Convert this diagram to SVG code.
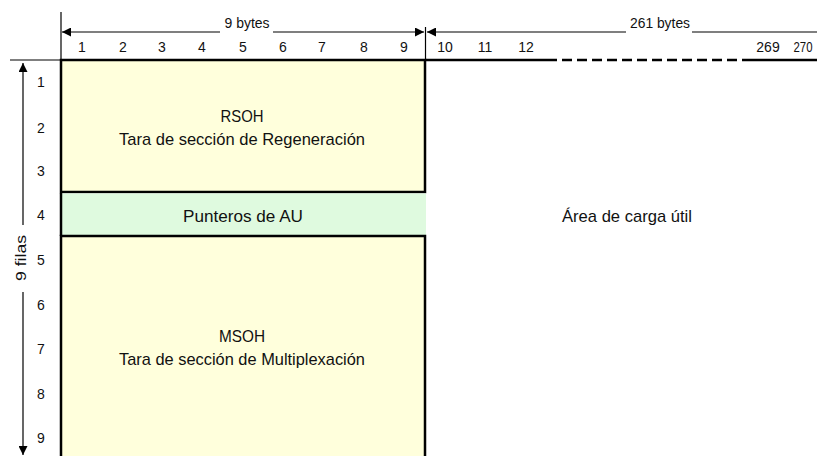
<svg xmlns="http://www.w3.org/2000/svg" width="817" height="456" viewBox="0 0 817 456">
<style>
text{font-family:"Liberation Sans",Arial,sans-serif;fill:#111}
.n{font-size:14px;text-anchor:middle}
.l{font-size:17px;text-anchor:middle}
.ln{stroke:#000;stroke-width:1.2;fill:none}
.bx{stroke:#000;stroke-width:2.5}
</style>
<defs>
<marker id="ah" viewBox="0 0 10 10" refX="10" refY="5" markerWidth="9" markerHeight="9" markerUnits="userSpaceOnUse" orient="auto-start-reverse">
<path d="M0,0 L10,5 L0,10 z" fill="#000"/>
</marker>
</defs>
<rect width="817" height="456" fill="#fff"/>
<g id="rsoh">
<rect class="bx" x="61" y="60" width="364" height="132" fill="#FFFFDC"/>
<text class="l" x="242" y="122" textLength="43" lengthAdjust="spacingAndGlyphs">RSOH</text>
<text class="l" x="242" y="145" textLength="246" lengthAdjust="spacingAndGlyphs">Tara de sección de Regeneración</text>
</g>
<g id="punteros">
<rect x="61" y="193.5" width="365" height="41.5" fill="#DFFADF"/>
<line x1="61" y1="193" x2="61" y2="236" stroke="#000" stroke-width="2.5"/>
<text class="l" x="243" y="222" textLength="120" lengthAdjust="spacingAndGlyphs">Punteros de AU</text>
</g>
<g id="msoh">
<rect class="bx" x="61" y="236" width="364" height="224" fill="#FFFFDC"/>
<text class="l" x="242" y="342" textLength="46" lengthAdjust="spacingAndGlyphs">MSOH</text>
<text class="l" x="242" y="365" textLength="246" lengthAdjust="spacingAndGlyphs">Tara de sección de Multiplexación</text>
</g>
<g id="carga">
<text class="l" x="627" y="222" textLength="130" lengthAdjust="spacingAndGlyphs">Área de carga útil</text>
</g>
<g id="connectors">
<line class="ln" x1="10" y1="60" x2="61" y2="60" stroke-width="2"/>
<line x1="425" y1="60" x2="547" y2="60" stroke="#000" stroke-width="2.5"/>
<line x1="547" y1="60" x2="742" y2="60" stroke="#000" stroke-width="2.5" stroke-dasharray="10 5"/>
<line x1="742" y1="60" x2="817" y2="60" stroke="#000" stroke-width="2.5"/>
<line class="ln" x1="61" y1="12" x2="61" y2="60"/>
<line class="ln" x1="425.5" y1="27" x2="425.5" y2="60"/>
<line class="ln" x1="62" y1="32" x2="220" y2="32" marker-start="url(#ah)"/>
<line class="ln" x1="273" y1="32" x2="424" y2="32" marker-end="url(#ah)"/>
<line class="ln" x1="427" y1="32" x2="626" y2="32" marker-start="url(#ah)"/>
<line class="ln" x1="692" y1="32" x2="817" y2="32"/>
<line class="ln" x1="23" y1="63" x2="23" y2="225" marker-start="url(#ah)"/>
<line class="ln" x1="23" y1="292" x2="23" y2="455" marker-end="url(#ah)"/>
</g>
<g id="labels">
<text class="n" x="247" y="28" textLength="45" lengthAdjust="spacingAndGlyphs">9 bytes</text>
<text class="n" x="660" y="28" textLength="60" lengthAdjust="spacingAndGlyphs">261 bytes</text>
<text class="n" transform="translate(26,258) rotate(-90)" textLength="46" lengthAdjust="spacingAndGlyphs">9 filas</text>
<text class="n" x="82" y="52">1</text>
<text class="n" x="123" y="52">2</text>
<text class="n" x="162" y="52">3</text>
<text class="n" x="202" y="52">4</text>
<text class="n" x="243" y="52">5</text>
<text class="n" x="283" y="52">6</text>
<text class="n" x="322" y="52">7</text>
<text class="n" x="364" y="52">8</text>
<text class="n" x="404" y="52">9</text>
<text class="n" x="445" y="52">10</text>
<text class="n" x="485" y="52">11</text>
<text class="n" x="526" y="52">12</text>
<text class="n" x="768" y="52">269</text>
<text class="n" x="803" y="52" textLength="19" lengthAdjust="spacingAndGlyphs">270</text>
<text class="n" x="41" y="87">1</text>
<text class="n" x="41" y="133">2</text>
<text class="n" x="41" y="176">3</text>
<text class="n" x="41" y="220">4</text>
<text class="n" x="41" y="265">5</text>
<text class="n" x="41" y="310">6</text>
<text class="n" x="41" y="354">7</text>
<text class="n" x="41" y="399">8</text>
<text class="n" x="41" y="443">9</text>
</g>
</svg>
